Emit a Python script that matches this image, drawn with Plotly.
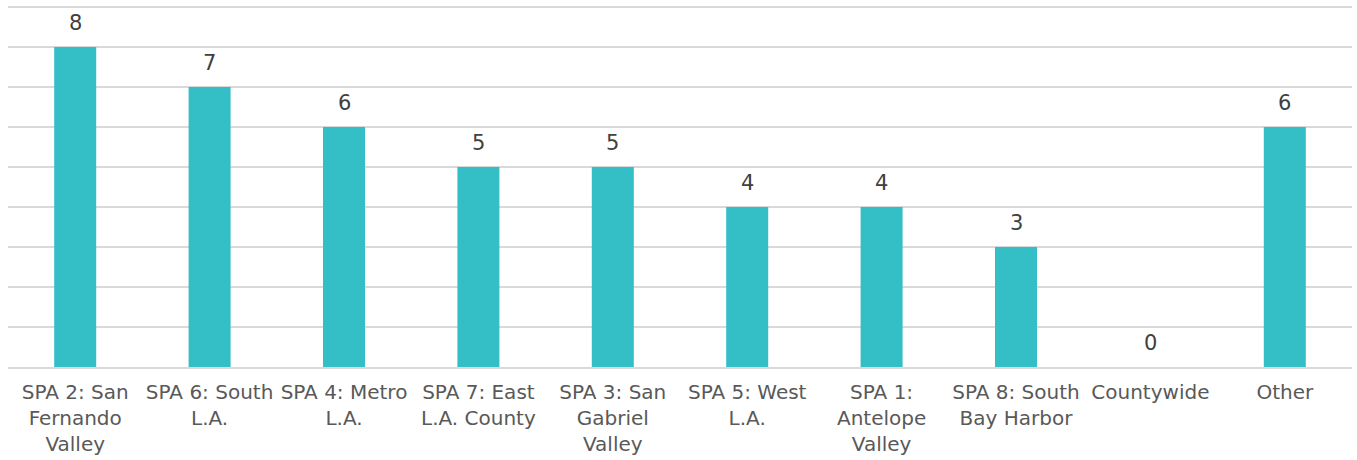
import plotly.graph_objects as go

categories = ["SPA 2: San<br>Fernando<br>Valley", "SPA 6: South<br>L.A.", "SPA 4: Metro<br>L.A.",
              "SPA 7: East<br>L.A. County", "SPA 3: San<br>Gabriel<br>Valley", "SPA 5: West<br>L.A.",
              "SPA 1:<br>Antelope<br>Valley", "SPA 8: South<br>Bay Harbor", "Countywide", "Other"]
values = [8, 7, 6, 5, 5, 4, 4, 3, 0, 6]

FONT = "DejaVu Sans"
BAR = "#34BEC6"

fig = go.Figure(go.Bar(x=categories, y=values, marker=dict(color=BAR, line=dict(width=0)),
                       hoverinfo="skip"))

for c, v in zip(categories, values):
    fig.add_annotation(x=c, y=v, text=str(v), showarrow=False, yanchor="bottom", yshift=10,
                       font=dict(family=FONT, size=21, color="#404040"))

fig.update_layout(
    width=1357, height=460,
    margin=dict(l=8, r=5, t=3, b=93),
    plot_bgcolor="white", paper_bgcolor="white",
    bargap=0.6875,
    showlegend=False,
    font=dict(family=FONT, size=20, color="#595959"),
)
fig.update_xaxes(showline=True, linecolor="#d9d9d9", linewidth=2, showgrid=False,
                 ticks="", ticklabelstandoff=6, tickfont=dict(family=FONT, size=20, color="#595959"))
fig.update_yaxes(range=[0, 9.1], dtick=1, showgrid=True, gridcolor="#d9d9d9", gridwidth=2,
                 showticklabels=False, zeroline=False)

fig.write_html("out.html")
